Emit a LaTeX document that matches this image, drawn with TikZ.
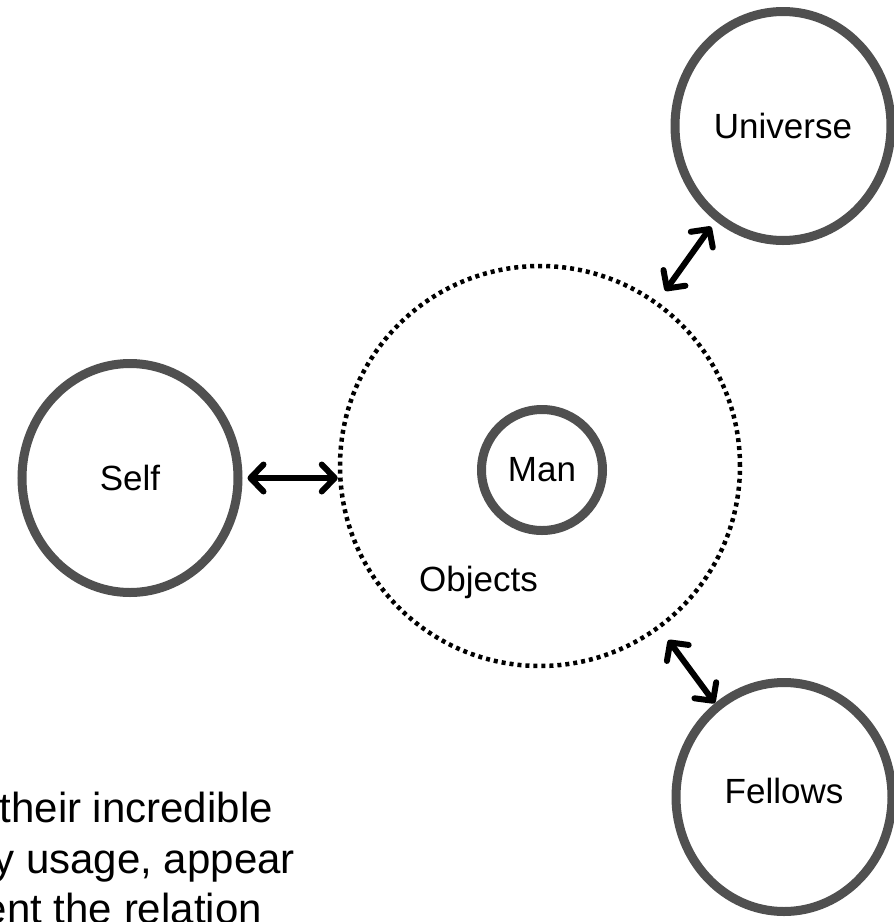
\documentclass[tikz,border=0pt]{standalone}
\usepackage{fontspec}
\setmainfont{Liberation Sans}
\usetikzlibrary{arrows.meta,shapes.geometric}
\definecolor{ringgray}{RGB}{80,80,80}
\tikzset{ring/.style={circle,draw=ringgray,line width=9pt,minimum size=#1,inner sep=0pt,font=\fontsize{35}{42}\selectfont}}
\tikzset{bigring/.style={ellipse,draw=ringgray,line width=9pt,minimum width=216pt,minimum height=229pt,inner sep=0pt,font=\fontsize{35}{42}\selectfont}}
\tikzset{dotring/.style={circle,draw=black,line width=4.5pt,dash pattern=on 4pt off 4pt,minimum size=400pt,inner sep=0pt}}
\tikzset{rel/.style={line width=6pt,>={Straight Barb[length=13pt,width=27pt,line cap=round,line join=round]},<->}}
\tikzset{prose/.style={inner sep=0pt,font=\fontsize{42}{50}\selectfont}}

\begin{document}
\begin{tikzpicture}[x=1pt,y=-1pt]
      \useasboundingbox (0,0) rectangle (894,922);

      \node[dotring] (objects) at (540,466) {};
      \node[ring=121pt] (man) at (542,470) {Man};
      \node[inner sep=0pt,anchor=base west,font=\fontsize{35}{42}\selectfont] (objlabel) at (419,591) {Objects};

      \node[bigring] (self) at (130,478) {Self};
      \node[bigring] (universe) at (783,126) {Universe};
      \node[bigring] (fellows) at (784,797) {\raisebox{12pt}{Fellows}};

      \draw[rel,shorten <=5pt] (self.east) -- (self.east -| objects.west);
      \draw[rel,shorten <=13pt,shorten >=7pt] (objects) -- (universe);
      \draw[rel,shorten <=14pt] (objects) -- (fellows);

      \node[prose,anchor=base east] (line1) at (273,822) {their incredible};
      \node[prose,anchor=base east] (line2) at (295,873) {y usage, appear};
      \node[prose,anchor=base east] (line3) at (262,923) {ent the relation};
\end{tikzpicture}
\end{document}
